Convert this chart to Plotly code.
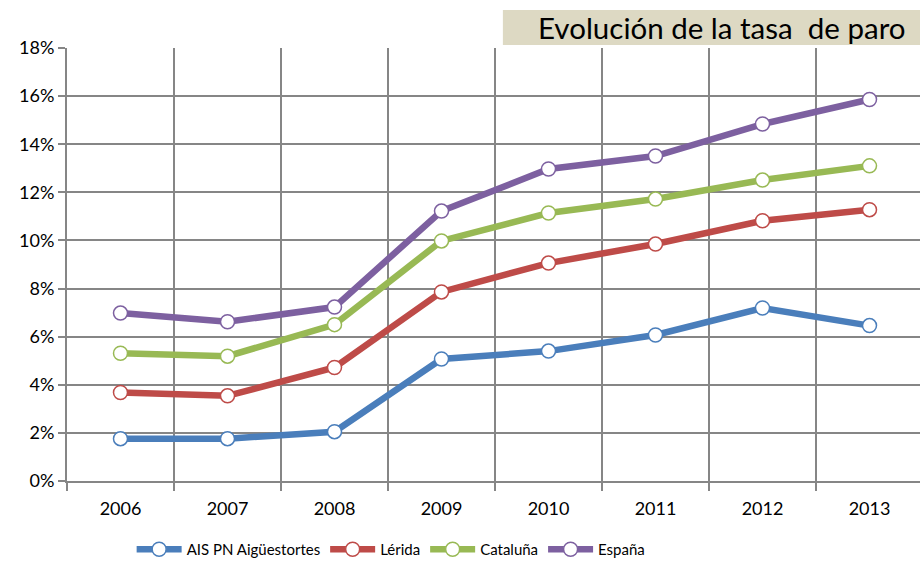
import plotly.graph_objects as go

years = ["2006", "2007", "2008", "2009", "2010", "2011", "2012", "2013"]

# tasa de paro (%)
ais_pn = [1.76, 1.76, 2.05, 5.07, 5.40, 6.07, 7.19, 6.46]
lerida = [3.68, 3.54, 4.72, 7.86, 9.06, 9.85, 10.82, 11.28]
cataluna = [5.31, 5.19, 6.50, 9.98, 11.14, 11.72, 12.51, 13.10]
espana = [6.98, 6.62, 7.23, 11.22, 12.97, 13.51, 14.84, 15.86]

series = [
    ("AIS PN Aigüestortes", ais_pn, "#4A7EBB"),
    ("Lérida", lerida, "#BE4B48"),
    ("Cataluña", cataluna, "#98B954"),
    ("España", espana, "#7D60A0"),
]

fig = go.Figure()

for name, vals, color in series:
    fig.add_trace(go.Scatter(
        x=years,
        y=[v / 100 for v in vals],
        name=name,
        mode="lines+markers",
        line=dict(color=color, width=6.5),
        marker=dict(size=14, color="white", line=dict(color=color, width=1.5)),
    ))

grid = "#868686"

fig.update_layout(
    width=920,
    height=566,
    margin=dict(l=67, r=0, t=48, b=85),
    plot_bgcolor="white",
    paper_bgcolor="white",
    font=dict(family="Lato, 'Open Sans', sans-serif", size=18, color="#000000"),
    showlegend=True,
    # legend kept inside the figure so it doesn't push the bottom margin
    legend=dict(
        orientation="h",
        x=0.38,
        xanchor="center",
        yref="container",
        y=-0.014,
        yanchor="bottom",
        font=dict(size=15),
        itemwidth=45,
    ),
    xaxis=dict(
        type="category",
        range=[-0.5, 7.472],
        tickson="boundaries",
        ticks="outside",
        ticklen=8,
        tickcolor=grid,
        tickwidth=2,
        ticklabelstandoff=10,
        showgrid=True,
        gridcolor=grid,
        gridwidth=2,
        showline=True,
        linecolor=grid,
        linewidth=2,
        zeroline=False,
        automargin=False,
        fixedrange=True,
    ),
    yaxis=dict(
        range=[0, 0.18],
        dtick=0.02,
        tickformat=".0%",
        ticks="outside",
        ticklen=7,
        tickcolor=grid,
        tickwidth=2,
        showgrid=True,
        gridcolor=grid,
        gridwidth=2,
        showline=True,
        linecolor=grid,
        linewidth=2,
        zeroline=False,
        automargin=False,
        fixedrange=True,
    ),
)

# title box
fig.add_shape(
    type="rect", xref="paper", yref="paper",
    x0=0.511, x1=1.01, y0=1.007, y1=1.088,
    fillcolor="#DDD9C3", line=dict(width=0), layer="above",
)
fig.add_annotation(
    xref="paper", yref="paper",
    x=0.768, xanchor="center",
    y=1.047, yanchor="middle",
    text="Evolución de la tasa  de paro",
    showarrow=False,
    font=dict(size=29.5, color="#000000"),
)

# drop the default body margin so the figure sits at the window's corner
fig.write_html(
    "out.html",
    config={"displayModeBar": False},
    post_script="document.body.style.margin='0px';",
)
